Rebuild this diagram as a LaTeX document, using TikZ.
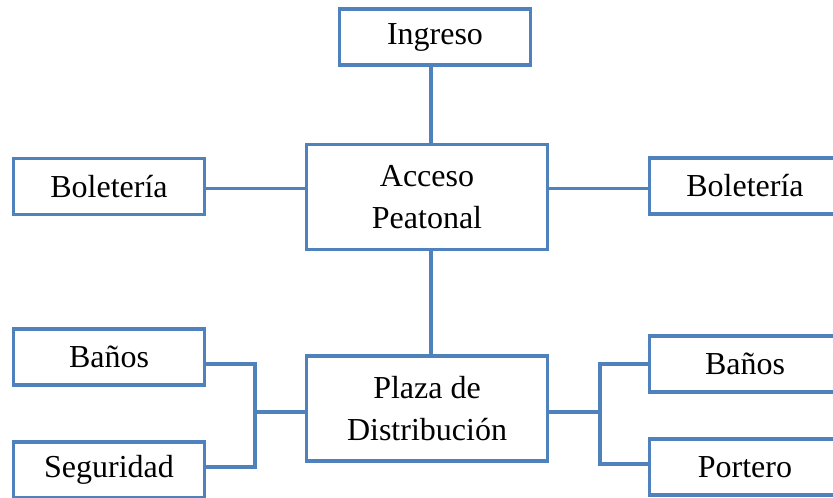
\documentclass[tikz,border=0pt]{standalone}
\usepackage{fontspec}
\setmainfont{Liberation Serif}
\definecolor{azulborde}{RGB}{79,129,189}

\begin{document}
\begin{tikzpicture}[x=1pt,y=-1pt,
  caja/.style={draw=azulborde,line width=3.3pt,fill=white,align=center,inner sep=0pt,
    minimum width=191pt,minimum height=56pt,font=\fontsize{32}{42}\selectfont},
  grande/.style={minimum width=241pt,minimum height=105pt},
  linea/.style={draw=azulborde,line width=3.3pt}]
\useasboundingbox (0,0) rectangle (833,498);
\clip (0,0) rectangle (833,498);
\node[caja] (ingreso) at (435,37) {Ingreso};
\node[caja,grande] (acceso) at (427,197) {Acceso\\Peatonal};
\node[caja] (boletL) at (109,186.5) {Boletería};
\node[caja] (boletR) at (745,186) {Boletería};
\node[caja,grande] (plaza) at (427,408.5) {Plaza de\\Distribución};
\node[caja] (banosL) at (109,357) {Baños};
\node[caja] (segur) at (109,470) {Seguridad};
\node[caja] (banosR) at (745,364) {Baños};
\node[caja] (portero) at (745,467) {Portero};
\coordinate (jL) at (255,412);
\coordinate (jR) at (600,412);
% eje central
\draw[linea] ([xshift=-4pt]ingreso.south) -- ([xshift=-4pt]ingreso.south |- acceso.north);
\draw[linea] ([xshift=4pt]acceso.south) -- ([xshift=4pt]acceso.south |- plaza.north);
\draw[linea] ([yshift=8.5pt]acceso.west) -- ([yshift=8.5pt]acceso.west -| boletL.east);
\draw[linea] ([yshift=8.5pt]acceso.east) -- ([yshift=8.5pt]acceso.east -| boletR.west);
% ramas de la plaza
\draw[linea] ([yshift=-7pt]banosL.east) -| (jL) |- ([yshift=3pt]segur.east);
\draw[linea] (jL) -- (plaza.west |- jL);
\draw[linea] (banosR.west) -| (jR) |- ([yshift=3pt]portero.west);
\draw[linea] (jR) -- (plaza.east |- jR);
\end{tikzpicture}
\end{document}
